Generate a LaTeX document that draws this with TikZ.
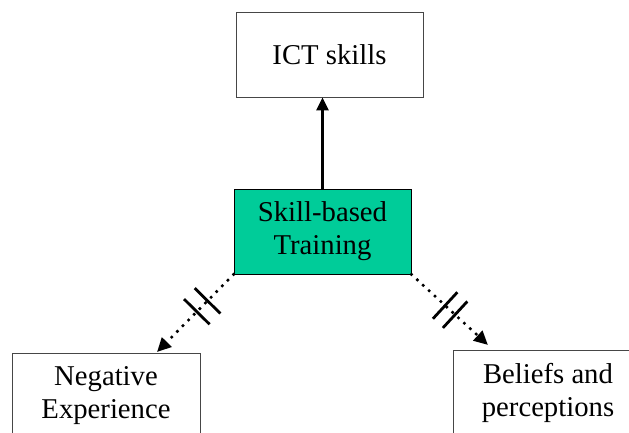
\documentclass[tikz,border=0pt]{standalone}
\usepackage{fontspec}
\setmainfont{Liberation Serif}
\usetikzlibrary{arrows.meta,calc}
\definecolor{trainfill}{RGB}{0,204,153}
\definecolor{boxline}{RGB}{70,70,70}
\tikzset{
  x=1pt, y=-1pt,
  box/.style={draw=boxline, line width=0.9pt, align=center, inner sep=0pt,
    font=\fontsize{28.7}{33}\selectfont},
  trainbox/.style={box, draw=black, fill=trainfill},
  leads/.style={line width=3pt, -{Triangle[length=13pt,width=12pt]}},
  weak/.style={line width=3.6pt, line cap=round, dash pattern=on 0pt off 8pt,
    -{Triangle[length=14pt,width=13pt]}},
  brk/.style={line width=2.8pt}
}
\begin{document}
\begin{tikzpicture}
  \useasboundingbox (0,0) rectangle (629,432);
  % boxes
  \node[box, minimum width=187pt, minimum height=85pt] (ict) at (329.5,54.5) {ICT skills};
  \node[trainbox, minimum width=177pt, minimum height=85pt] (train) at (322.5,231.5) {Skill-based\\Training};
  \node[box, minimum width=188pt, minimum height=85pt] (neg) at (106,395.5) {Negative\\Experience};
  \node[box, minimum width=190pt, minimum height=85pt] (bel) at (548,392.5) {Beliefs and\\perceptions};
  % arrow tips of the dotted links
  \coordinate (negtip) at (157,352);
  \coordinate (beltip) at (488,345);
  % links
  \draw[leads] (train.north) -- (train.north |- ict.south);
  \draw[weak] (train.south west) -- (negtip);
  \draw[weak] (train.south east) -- (beltip);
  % break marks on the dotted links
  \foreach \t in {0.34,0.48}{
    \coordinate (m) at ($(train.south west)!\t!(negtip)$);
    \draw[brk] ($(m)!18pt!90:(negtip)$) -- ($(m)!18pt!-90:(negtip)$);
  }
  \foreach \t in {0.44,0.57}{
    \coordinate (m) at ($(train.south east)!\t!(beltip)$);
    \draw[brk] ($(m)!18pt!90:(beltip)$) -- ($(m)!18pt!-90:(beltip)$);
  }
\end{tikzpicture}
\end{document}
